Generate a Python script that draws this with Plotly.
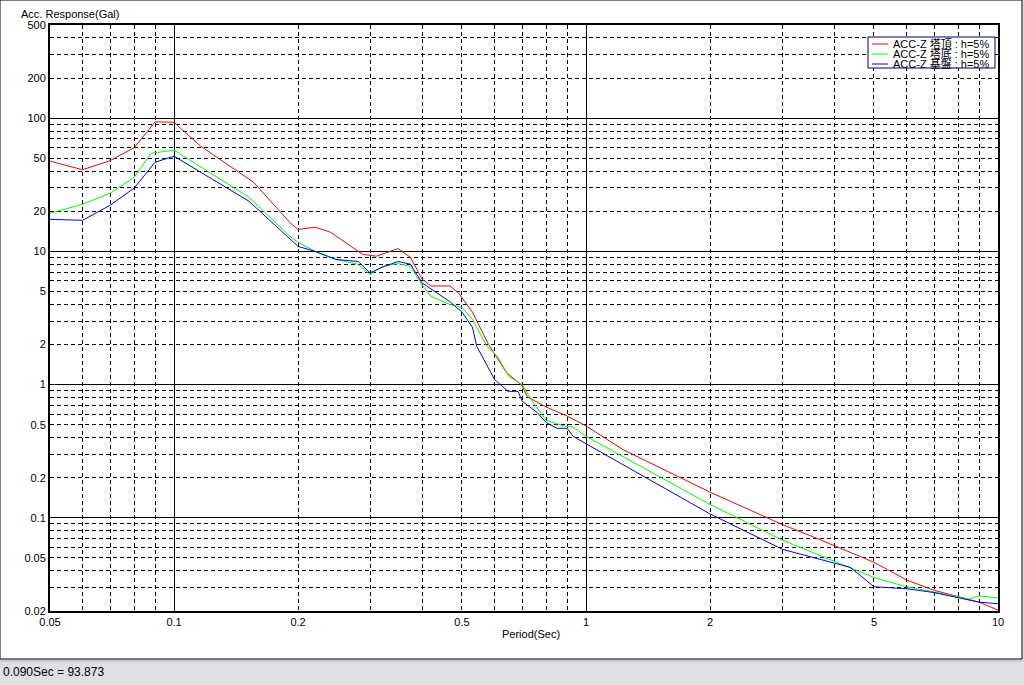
import plotly.graph_objects as go
import numpy as np

# ---- data ----
red_x = [0.05, 0.06, 0.07, 0.08, 0.09, 0.1, 0.116, 0.156, 0.191, 0.2, 0.22, 0.24, 0.287, 0.31, 0.35,
         0.375, 0.40, 0.42, 0.467, 0.49, 0.53, 0.58, 0.64, 0.70, 0.72, 0.80, 0.90, 1.0, 1.23, 2.0,
         3.0, 3.64, 5.0, 6.0, 7.0, 9.0, 10.0]
red_y = [47.5, 41, 48, 60, 93.873, 93, 61.6, 33, 16.5, 14.6, 15.2, 13.9, 9.5, 9.2, 10.5,
         9.0, 6.2, 5.5, 5.5, 4.9, 3.5, 2.0, 1.24, 0.98, 0.81, 0.68, 0.58, 0.49, 0.325, 0.156,
         0.0889, 0.070, 0.0464, 0.0342, 0.0286, 0.0233, 0.0203]

green_x = [0.05, 0.06, 0.07, 0.08, 0.088, 0.1, 0.152, 0.191, 0.2, 0.22, 0.247, 0.28, 0.299, 0.32,
           0.35, 0.375, 0.40, 0.42, 0.467, 0.50, 0.53, 0.575, 0.61, 0.65, 0.70, 0.745, 0.80, 0.88,
           0.93, 1.0, 2.0, 3.0, 5.0, 6.0, 7.0, 8.5, 9.0, 10.0]
green_y = [19.3, 22.6, 27.3, 36, 54.5, 57.5, 25.5, 13.0, 11.7, 10, 8.7, 8.0, 6.7, 7.7,
           8.1, 7.7, 5.6, 4.6, 4.0, 3.8, 3.1, 1.94, 1.62, 1.15, 1.0, 0.73, 0.54, 0.49,
           0.48, 0.41, 0.126, 0.068, 0.0357, 0.0304, 0.0278, 0.0245, 0.026, 0.025]

blue_x = [0.05, 0.06, 0.07, 0.08, 0.09, 0.1, 0.152, 0.191, 0.2, 0.22, 0.247, 0.28, 0.299, 0.32,
          0.35, 0.375, 0.40, 0.467, 0.50, 0.53, 0.543, 0.60, 0.647, 0.684, 0.70, 0.76, 0.80, 0.85,
          0.90, 0.93, 1.0, 2.0, 3.0, 4.38, 5.0, 6.0, 7.0, 9.0, 10.0]
blue_y = [17.4, 17.1, 22.2, 29.8, 46.7, 51.8, 23.8, 12.3, 10.9, 10, 8.7, 8.4, 6.9, 7.6,
          8.4, 8.0, 5.8, 4.2, 3.5, 2.7, 1.94, 1.09, 0.89, 0.89, 0.75, 0.62, 0.52, 0.47,
          0.47, 0.41, 0.36, 0.107, 0.058, 0.0425, 0.0304, 0.0294, 0.0275, 0.0233, 0.0227]

series_names = ["ACC-Z 塔頂 : h=5%", "ACC-Z 塔底 : h=5%", "ACC-Z 基盤 : h=5%"]
series_colors = ["#ff0000", "#00ff00", "#0000ff"]

x_label_vals = [0.05, 0.1, 0.2, 0.5, 1, 2, 5, 10]
x_label_text = ["0.05", "0.1", "0.2", "0.5", "1", "2", "5", "10"]
y_label_vals = [0.02, 0.05, 0.1, 0.2, 0.5, 1, 2, 5, 10, 20, 50, 100, 200, 500]
y_label_text = ["0.02", "0.05", "0.1", "0.2", "0.5", "1", "2", "5", "10", "20", "50", "100", "200", "500"]
x_decades = [0.1, 1]
y_decades = [0.1, 1, 10, 100]

status_text = "0.090Sec = 93.873"

x_minor = [round(m * d, 6) for d in [0.01, 0.1, 1] for m in range(2, 10) if 0.05 < m * d < 10]
y_minor = [round(m * d, 6) for d in [0.01, 0.1, 1, 10, 100] for m in range(2, 10) if 0.02 < m * d < 500]

FONT = "Liberation Sans, Noto Sans CJK JP, sans-serif"
xr = [np.log10(0.05), np.log10(10)]
yr = [np.log10(0.02), np.log10(500)]

fig = go.Figure()
for xs, ys, nm, c in zip([red_x, green_x, blue_x], [red_y, green_y, blue_y], series_names, series_colors):
    fig.add_trace(go.Scatter(x=xs, y=ys, mode="lines", name=nm, line=dict(color=c, width=1),
                             showlegend=False))

# helper trace for the overlay axes (decade grid)
fig.add_trace(go.Scatter(x=[0.05, 10], y=[0.02, 500], xaxis="x2", yaxis="y2", mode="lines",
                         line=dict(width=0), showlegend=False, hoverinfo="skip"))

L, R, T, B = 50, 26, 25, 74
W, H = 1024, 685
pw, ph = W - L - R, H - T - B

def px(xp):
    return (xp - L) / pw

def py(yp):
    return (H - B - yp) / ph

fig.update_layout(
    width=W, height=H,
    margin=dict(l=L, r=R, t=T, b=B),
    paper_bgcolor="#e0e0e4",
    plot_bgcolor="white",
    hovermode=False,
    font=dict(family=FONT, size=11, color="black"),
    xaxis=dict(type="log", range=xr, tickmode="array", tickvals=x_label_vals, ticktext=x_label_text,
               showgrid=False, zeroline=False, showline=True, mirror=True, linewidth=2, linecolor="black",
               ticks="", tickfont=dict(size=11),
               minor=dict(tickmode="array", tickvals=x_minor, showgrid=True, griddash="4px,3px",
                          gridcolor="black", gridwidth=1, ticks="")),
    yaxis=dict(type="log", range=yr, tickmode="array", tickvals=y_label_vals, ticktext=y_label_text,
               showgrid=False, zeroline=False, showline=True, mirror=True, linewidth=2, linecolor="black",
               ticks="", tickfont=dict(size=11),
               minor=dict(tickmode="array", tickvals=y_minor, showgrid=True, griddash="4px,3px",
                          gridcolor="black", gridwidth=1, ticks="")),
    xaxis2=dict(type="log", range=xr, overlaying="x", tickmode="array", tickvals=x_decades,
                showgrid=True, gridcolor="black", gridwidth=1, showticklabels=False, ticks="",
                zeroline=False, showline=False),
    yaxis2=dict(type="log", range=yr, overlaying="y", tickmode="array", tickvals=y_decades,
                showgrid=True, gridcolor="black", gridwidth=1, showticklabels=False, ticks="",
                zeroline=False, showline=False),
    showlegend=False,
)

# window frame (white area) and status bar
fig.add_shape(type="rect", xref="paper", yref="paper", x0=px(0), x1=px(1022), y0=py(659), y1=py(0),
              fillcolor="white", line=dict(color="black", width=1), layer="below")
fig.add_shape(type="line", xref="paper", yref="paper", x0=px(0), x1=px(1024), y0=py(661), y1=py(661),
              line=dict(color="#b8b8bc", width=1))

# compact legend box (as in the reference window)
fig.add_shape(type="rect", xref="paper", yref="paper", x0=px(868), x1=px(995), y0=py(68), y1=py(37),
              fillcolor="white", line=dict(color="#000080", width=1))
for i, (nm, c) in enumerate(zip(series_names, series_colors)):
    ry = 44 + 10 * i
    fig.add_shape(type="line", xref="paper", yref="paper", x0=px(872), x1=px(888), y0=py(ry), y1=py(ry),
                  line=dict(color=c, width=1))
    fig.add_annotation(text=nm, xref="paper", yref="paper", x=px(892), y=py(ry),
                       xanchor="left", yanchor="middle", showarrow=False, font=dict(size=11),
                       borderpad=0)

fig.add_annotation(text="Acc. Response(Gal)", xref="paper", yref="paper", x=px(19), y=py(14),
                   xanchor="left", yanchor="middle", showarrow=False, font=dict(size=11))
fig.add_annotation(text="Period(Sec)", xref="paper", yref="paper", x=px(531), y=py(634),
                   xanchor="center", yanchor="middle", showarrow=False, font=dict(size=11))
fig.add_annotation(text=status_text, xref="paper", yref="paper", x=px(1), y=py(672),
                   xanchor="left", yanchor="middle", showarrow=False, font=dict(size=12))

fig.write_html("out.html", config={"displayModeBar": False},
               post_script="document.body.style.margin='0px';document.body.style.overflow='hidden';")
